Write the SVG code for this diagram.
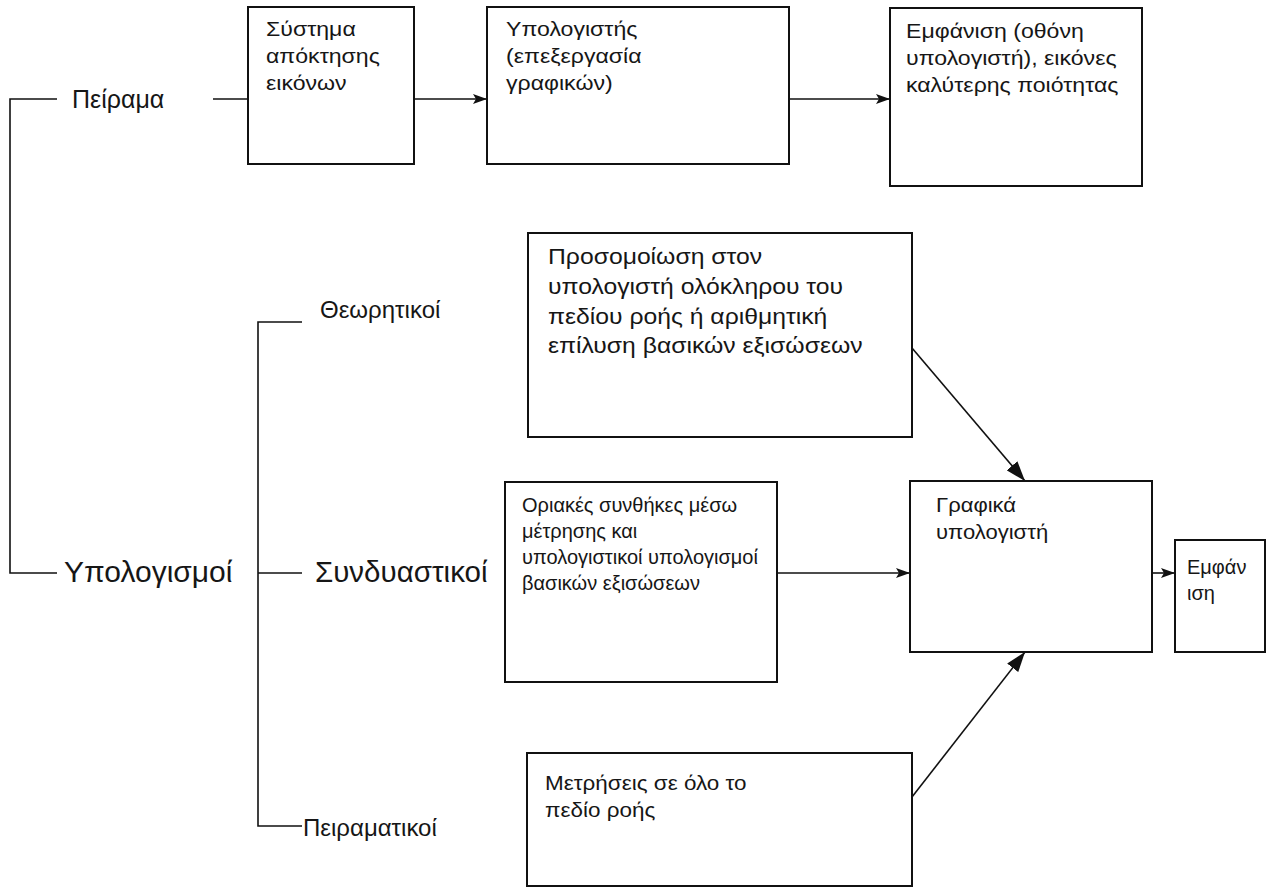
<svg xmlns="http://www.w3.org/2000/svg" width="1279" height="892" viewBox="0 0 1279 892">
<style>
.box{fill:#fff;stroke:#111;stroke-width:2}
.t{font-family:"Liberation Sans",Arial,sans-serif;font-size:20px;fill:#161616}
.tm{font-family:"Liberation Sans",Arial,sans-serif;font-size:21px;fill:#161616}
.tw{font-family:"Liberation Sans",Arial,sans-serif;font-size:21.5px;fill:#161616}
.lbl{font-family:"Liberation Sans",Arial,sans-serif;font-size:24px;fill:#161616}
.big{font-size:30px}
.ln{fill:none;stroke:#111;stroke-width:1.6}
</style>
<defs>
<marker id="ah" viewBox="0 0 14 10" refX="14" refY="5" markerWidth="14" markerHeight="10" markerUnits="userSpaceOnUse" orient="auto">
<path d="M0,0 L14,5 L0,10 L3,5 Z" fill="#111"/>
</marker>
<marker id="ahb" viewBox="0 0 20 14" refX="20" refY="7" markerWidth="20" markerHeight="14" markerUnits="userSpaceOnUse" orient="auto">
<path d="M0,0 L20,7 L0,14 Z" fill="#111"/>
</marker>
</defs>
<rect width="1279" height="892" fill="#fff"/>
<g id="connectors">
<path class="ln" d="M57,99 H10 V573 H57"/>
<path class="ln" d="M213,99 H248"/>
<path class="ln" d="M414,99 H487" marker-end="url(#ah)"/>
<path class="ln" d="M789,99 H890" marker-end="url(#ah)"/>
<path class="ln" d="M302,322 H258 V826 H302"/>
<path class="ln" d="M258,573 H302"/>
<path class="ln" d="M777,573 H910" marker-end="url(#ah)"/>
<path class="ln" d="M1152,573 H1175" marker-end="url(#ah)"/>
<path class="ln" d="M912,348 L1025,481" marker-end="url(#ahb)"/>
<path class="ln" d="M912,797 L1025,652" marker-end="url(#ahb)"/>
</g>
<g id="n-peirama"><text class="lbl" x="72" y="108" style="font-size:25px">Πείραμα</text></g>
<g id="n-ypologismoi"><text class="lbl big" x="64" y="582">Υπολογισμοί</text></g>
<g id="n-theoritikoi"><text class="lbl" x="320" y="318">Θεωρητικοί</text></g>
<g id="n-syndyastikoi"><text class="lbl" x="315" y="582" style="font-size:29.5px">Συνδυαστικοί</text></g>
<g id="n-peiramatikoi"><text class="lbl" x="303" y="836">Πειραματικοί</text></g>
<g id="n-systima">
<rect class="box" x="248" y="7" width="166" height="157"/>
<g transform="translate(266,0) scale(1.1,1)">
<text class="tm" x="0" y="36">Σύστημα</text>
<text class="tm" x="0" y="63">απόκτησης</text>
<text class="tm" x="0" y="90">εικόνων</text>
</g>
</g>
<g id="n-ypologistis">
<rect class="box" x="487" y="7" width="302" height="157"/>
<g transform="translate(506,0) scale(1.1,1)">
<text class="tm" x="0" y="36">Υπολογιστής</text>
<text class="tm" x="0" y="63">(επεξεργασία</text>
<text class="tm" x="0" y="90">γραφικών)</text>
</g>
</g>
<g id="n-emfanisi-top">
<rect class="box" x="890" y="8" width="252" height="178"/>
<g transform="translate(906,0) scale(1.1,1)">
<text class="tm" x="0" y="38">Εμφάνιση (οθόνη</text>
<text class="tm" x="0" y="65">υπολογιστή), εικόνες</text>
<text class="tm" x="0" y="92">καλύτερης ποιότητας</text>
</g>
</g>
<g id="n-prosomoiosi">
<rect class="box" x="528" y="233" width="384" height="204"/>
<g transform="translate(548,0) scale(1.15,1)">
<text class="tw" x="0" y="264">Προσομοίωση στον</text>
<text class="tw" x="0" y="294">υπολογιστή ολόκληρου του</text>
<text class="tw" x="0" y="324">πεδίου ροής ή αριθμητική</text>
<text class="tw" x="0" y="353">επίλυση βασικών εξισώσεων</text>
</g>
</g>
<g id="n-oriakes">
<rect class="box" x="505" y="482" width="272" height="200"/>
<text class="t" x="522" y="512">Οριακές συνθήκες μέσω</text>
<text class="t" x="522" y="538">μέτρησης και</text>
<text class="t" x="522" y="564">υπολογιστικοί υπολογισμοί</text>
<text class="t" x="522" y="590">βασικών εξισώσεων</text>
</g>
<g id="n-grafika">
<rect class="box" x="910" y="481" width="242" height="171"/>
<g transform="translate(936,0) scale(1.05,1)">
<text class="tm" x="0" y="512">Γραφικά</text>
<text class="tm" x="0" y="539">υπολογιστή</text>
</g>
</g>
<g id="n-emfanisi">
<rect class="box" x="1175" y="540" width="90" height="112"/>
<text class="t" x="1187" y="574">Εμφάν</text>
<text class="t" x="1187" y="600">ιση</text>
</g>
<g id="n-metriseis">
<rect class="box" x="527" y="753" width="385" height="133"/>
<g transform="translate(545,0) scale(1.07,1)">
<text class="tm" x="0" y="790">Μετρήσεις σε όλο το</text>
<text class="tm" x="0" y="817">πεδίο ροής</text>
</g>
</g>
</svg>
